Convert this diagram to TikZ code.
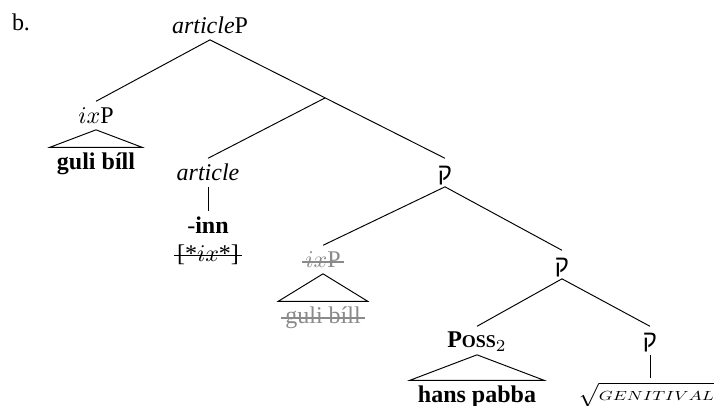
\documentclass[tikz,border=0pt]{standalone}
\usepackage{fontspec}
\setmainfont{Liberation Serif}
\newfontfamily\hebfont[Script=Hebrew]{Liberation Sans}
\TeXXeTstate=1
\usepackage{graphicx}
\usetikzlibrary{calc}
\definecolor{cStruck}{HTML}{8A8A8A}
\newcommand{\qof}{{\hebfont\beginR ק\endR}}

\begin{document}
\begin{tikzpicture}[x=0.4167pt,y=-0.4167pt,
    lbl/.style={anchor=base,inner sep=1.5pt,text height=1.6ex,text depth=.25ex},
    struck/.style={text=cStruck},
    tri/.style={draw,line join=miter}]
  \useasboundingbox (0,0) rectangle (722,406);
  % labels
  \node[lbl] (ex) at (21,30) {b.};
  \node[lbl] (artP) at (210,33) {\textit{article}P};
  \node[lbl] (ixP) at (96,123) {$ix$P};
  \node[lbl] (guli) at (96,169) {\textbf{guli bíll}};
  \node[lbl] (art) at (208,180) {\textit{article}};
  \node[lbl] (inn) at (208,233) {-\textbf{inn}};
  \node[lbl] (feat) at (208,261) {[*$ix$*]};
  \node[lbl] (qA) at (445,180) {\qof};
  \node[lbl,struck] (ixPc) at (323,267) {$ix$P};
  \node[lbl,struck] (gulic) at (323,323) {guli bíll};
  \node[lbl] (qB) at (562,272) {\qof};
  \node[lbl] (poss) at (477,348) {\textbf{P{\fontsize{7.5}{9}\selectfont OSS}}$_2$};
  \node[lbl] (hans) at (477,402) {\textbf{hans pabba}};
  \node[lbl] (qC) at (650,348) {\qof};
  \node[lbl,anchor=base west,inner sep=1pt] (root) at (576,401)
    {$\sqrt{\mbox{\scalebox{0.74}[0.55]{$GENITIVAL$}}}$};
  % strike-throughs
  \draw[line width=.5pt] ($(feat.base west)+(1,-5.5)$) -- ($(feat.base east)+(-1,-5.5)$);
  \draw[line width=.5pt,cStruck] ($(ixPc.base west)+(1,-5)$) -- ($(ixPc.base east)+(-1,-5)$);
  \draw[line width=.5pt,cStruck] ($(gulic.base west)+(0,-5)$) -- ($(gulic.base east)+(0,-5)$);
  % branches
  \draw (artP.south) -- (ixP.north);
  \draw (artP.south) -- coordinate[pos=.49] (jn) (qA.north);
  \draw (jn) -- (art.north);
  \draw (art.south) -- (inn.north);
  \draw (qA.south) -- (ixPc.north);
  \draw (qA.south) -- (qB.north);
  \draw (qB.south) -- (poss.north);
  \draw (qB.south) -- (qC.north);
  \draw (qC.south) -- ($(qC.south |- root.north)+(0,-2)$);
  % triangles
  \draw[tri] (ixP.south) -- ($(guli.north west)+(-3,0)$) -- ($(guli.north east)+(3,0)$) -- cycle;
  \draw[tri] (ixPc.south) -- ($(gulic.north west)+(-3,0)$) -- ($(gulic.north east)+(3,0)$) -- cycle;
  \draw[tri] (poss.south) -- ($(hans.north west)+(-4,0)$) -- ($(hans.north east)+(4,0)$) -- cycle;
\end{tikzpicture}
\end{document}
